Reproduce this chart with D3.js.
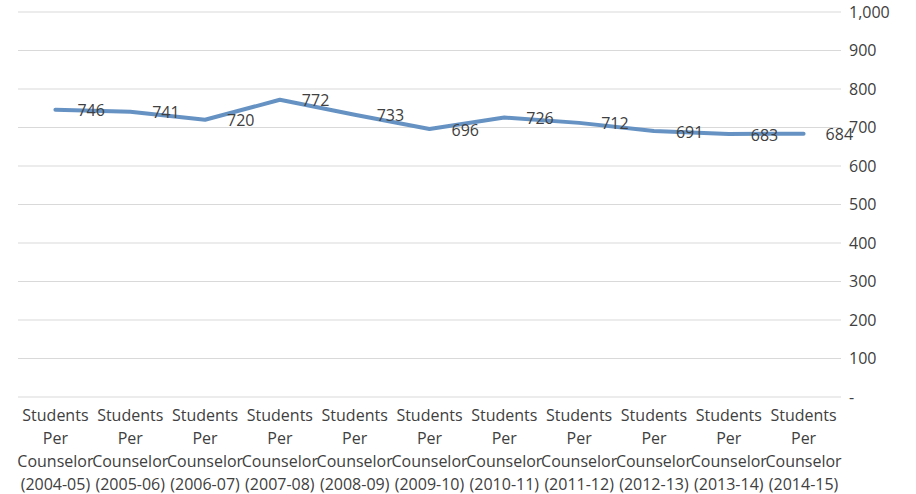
<!DOCTYPE html>
<html lang="en">
<head>
    <meta charset="UTF-8">
    <title>Students Per Counselor</title>
    <script src="https://d3js.org/d3.v7.min.js"></script>
    <style>
        body { margin: 0; background: #fff; }
        text { font-family: "Open Sans", sans-serif; fill: #404040; }
    </style>
</head>
<body>
    <svg id="chart"></svg>

    <script>
        const years = ["2004-05", "2005-06", "2006-07", "2007-08", "2008-09", "2009-10",
                       "2010-11", "2011-12", "2012-13", "2013-14", "2014-15"];
        const ratios = [746, 741, 720, 772, 733, 696, 726, 712, 691, 683, 684];
        const yTicks = [0, 100, 200, 300, 400, 500, 600, 700, 800, 900, 1000];

        const width = 916;
        const height = 494;
        const margin = { top: 12, right: 75, bottom: 97, left: 18 };

        const svg = d3.select("#chart")
            .attr("width", width)
            .attr("height", height);

        const x = d3.scaleBand()
            .domain(years)
            .range([margin.left, width - margin.right]);

        const y = d3.scaleLinear()
            .domain([0, 1000])
            .range([height - margin.bottom, margin.top]);

        // gridlines
        svg.append("g")
            .selectAll("line")
            .data(yTicks)
            .enter()
            .append("line")
            .attr("x1", margin.left)
            .attr("x2", width - margin.right)
            .attr("y1", d => y(d))
            .attr("y2", d => y(d))
            .attr("stroke", "#d9d9d9")
            .attr("stroke-width", 1);

        // right-hand axis labels
        svg.append("g")
            .selectAll("text")
            .data(yTicks)
            .enter()
            .append("text")
            .attr("x", width - margin.right + 8)
            .attr("y", d => y(d))
            .attr("dy", "0.35em")
            .style("font-size", "16px")
            .text(d => d === 0 ? "-" : d3.format(",")(d));

        const cx = d => x(d) + x.bandwidth() / 2;

        const line = d3.line()
            .x((d, i) => cx(years[i]))
            .y(d => y(d));

        svg.append("path")
            .datum(ratios)
            .attr("d", line)
            .attr("fill", "none")
            .attr("stroke", "#6592c3")
            .attr("stroke-width", 4)
            .attr("stroke-linejoin", "round")
            .attr("stroke-linecap", "round");

        // data labels to the right of each point
        svg.append("g")
            .selectAll("text")
            .data(ratios)
            .enter()
            .append("text")
            .attr("x", (d, i) => cx(years[i]) + 22)
            .attr("y", d => y(d) + 1)
            .attr("dy", "0.35em")
            .style("font-size", "16px")
            .text(d => d);

        // category labels
        const cat = svg.append("g")
            .selectAll("text")
            .data(years)
            .enter()
            .append("text")
            .attr("x", d => cx(d))
            .attr("y", height - margin.bottom + 24)
            .attr("text-anchor", "middle")
            .style("font-size", "16px");

        const lines = ["Students", "Per", "Counselor"];
        cat.each(function (d) {
            const t = d3.select(this);
            lines.concat([`(${d})`]).forEach((s, k) => {
                t.append("tspan")
                    .attr("x", cx(d))
                    .attr("dy", k === 0 ? 0 : 23)
                    .text(s);
            });
        });
    </script>
</body>
</html>
